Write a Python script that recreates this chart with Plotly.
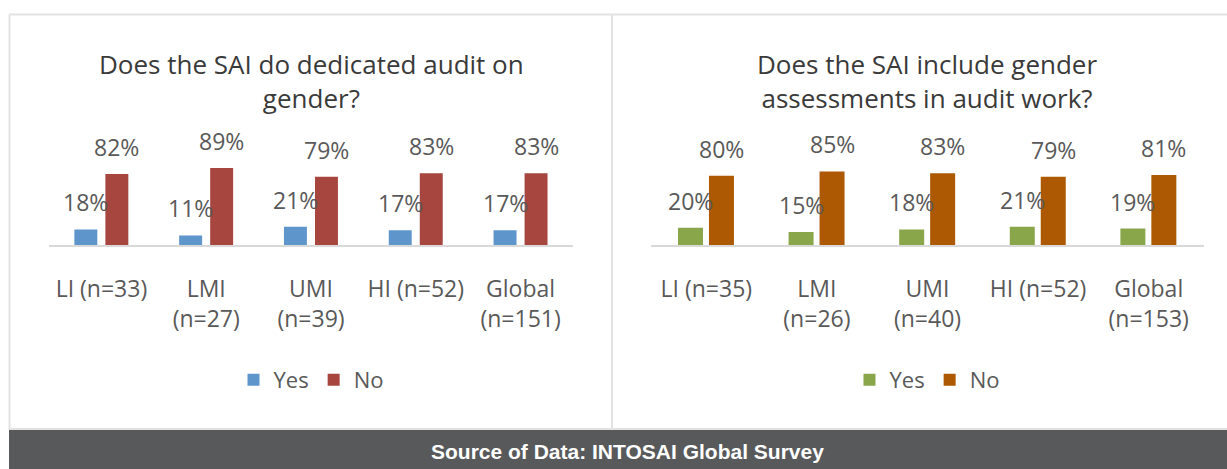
import plotly.graph_objects as go

# ---- data -------------------------------------------------------------
categories_left = ["LI (n=33)", "LMI<br>(n=27)", "UMI<br>(n=39)", "HI (n=52)", "Global<br>(n=151)"]
yes_left = [18, 11, 21, 17, 17]
no_left = [82, 89, 79, 83, 83]

categories_right = ["LI (n=35)", "LMI<br>(n=26)", "UMI<br>(n=40)", "HI (n=52)", "Global<br>(n=153)"]
yes_right = [20, 15, 18, 21, 19]
no_right = [80, 85, 83, 79, 81]

title_left = "Does the SAI do dedicated audit on<br>gender?"
title_right = "Does the SAI include gender<br>assessments in audit work?"
source_note = "Source of Data: INTOSAI Global Survey"

# ---- styling ----------------------------------------------------------
W, H = 1227, 469
FONT = "Open Sans"
LABEL_GREY = "#595959"
TITLE_GREY = "#3a3a3a"
BORDER = "#e2e2e2"
COL = {"yes_l": "#5e96cc", "no_l": "#a6463f", "yes_r": "#8aa64b", "no_r": "#ad5903"}


def px(x):
    return x / W


def py(y):
    return 1 - y / H


fig = go.Figure()

# bar geometry in category units: (left edge offset, width)
GEOM = {
    "x": {"yes": (-0.258, 0.219), "no": (0.038, 0.219)},
    "x2": {"yes": (-0.256, 0.226), "no": (0.024, 0.226)},
}

panels = [
    ("x", "y", "legend", categories_left, yes_left, no_left, COL["yes_l"], COL["no_l"]),
    ("x2", "y2", "legend2", categories_right, yes_right, no_right, COL["yes_r"], COL["no_r"]),
]

annotations = []
for xa, ya, lg, cats, yes, no, cy, cn in panels:
    for name, vals, color in (("Yes", yes, cy), ("No", no, cn)):
        off, wid = GEOM[xa][name.lower()]
        fig.add_trace(go.Bar(
            x=cats, y=vals, name=name, xaxis=xa, yaxis=ya, legend=lg,
            marker=dict(color=color, line=dict(width=0)),
            offset=off, width=wid, hoverinfo="skip",
        ))
        for i, v in enumerate(vals):
            annotations.append(dict(
                x=i + off + wid / 2, y=v, xref=xa, yref=ya,
                text=f"{v}%", showarrow=False, yshift=27,
                xanchor="center", yanchor="middle",
                font=dict(family=FONT, size=23, color=LABEL_GREY),
            ))

# chart titles
for cx, text in ((311, title_left), (927, title_right)):
    annotations.append(dict(
        x=px(cx), y=py(81), xref="paper", yref="paper", text=text,
        showarrow=False, xanchor="center", yanchor="middle",
        font=dict(family=FONT, size=26, color=TITLE_GREY),
    ))
# footer caption
annotations.append(dict(
    x=px(627), y=py(451), xref="paper", yref="paper", text=f"<b>{source_note}</b>",
    showarrow=False, xanchor="center", yanchor="middle",
    font=dict(family="Liberation Sans", size=21, color="white"),
))

shapes = [
    # footer band
    dict(type="rect", xref="paper", yref="paper", x0=px(9), x1=1, y0=0, y1=py(430),
         fillcolor="#58595b", line=dict(width=0), layer="below"),
    # panel frames
    dict(type="line", xref="paper", yref="paper", x0=px(9), x1=1, y0=py(14.5), y1=py(14.5),
         line=dict(color=BORDER, width=2)),
    dict(type="line", xref="paper", yref="paper", x0=px(9.5), x1=px(9.5), y0=py(14.5), y1=py(430),
         line=dict(color=BORDER, width=2)),
    dict(type="line", xref="paper", yref="paper", x0=px(612), x1=px(612), y0=py(14.5), y1=py(430),
         line=dict(color=BORDER, width=2)),
    dict(type="line", xref="paper", yref="paper", x0=px(9), x1=1, y0=py(429), y1=py(429),
         line=dict(color=BORDER, width=2)),
]

y_dom = [py(245), py(245 - 86.5)]
axis_common = dict(
    showgrid=False, zeroline=False, showline=True, linecolor="#d9d9d9", linewidth=1.5,
    ticks="", ticklabelstandoff=23, range=[-0.5, 4.5], fixedrange=True,
    tickfont=dict(family=FONT, size=23, color=LABEL_GREY),
)
yaxis_common = dict(range=[0, 100], visible=False, fixedrange=True)

legend_common = dict(
    orientation="h", xanchor="center", yanchor="middle", bgcolor="rgba(0,0,0,0)",
    font=dict(family=FONT, size=22, color=LABEL_GREY), traceorder="normal",
    itemwidth=30,
)

fig.update_layout(
    width=W, height=H, margin=dict(l=0, r=0, t=0, b=0),
    paper_bgcolor="white", plot_bgcolor="white",
    barmode="overlay",
    xaxis=dict(domain=[px(49), px(573)], anchor="y", **axis_common),
    xaxis2=dict(domain=[px(651), px(1204)], anchor="y2", **axis_common),
    yaxis=dict(domain=y_dom, anchor="x", **yaxis_common),
    yaxis2=dict(domain=y_dom, anchor="x2", **yaxis_common),
    legend=dict(x=px(311), y=py(380), **legend_common),
    legend2=dict(x=px(927), y=py(380), **legend_common),
    annotations=annotations,
    shapes=shapes,
    showlegend=True,
)

fig.write_html("out.html")
